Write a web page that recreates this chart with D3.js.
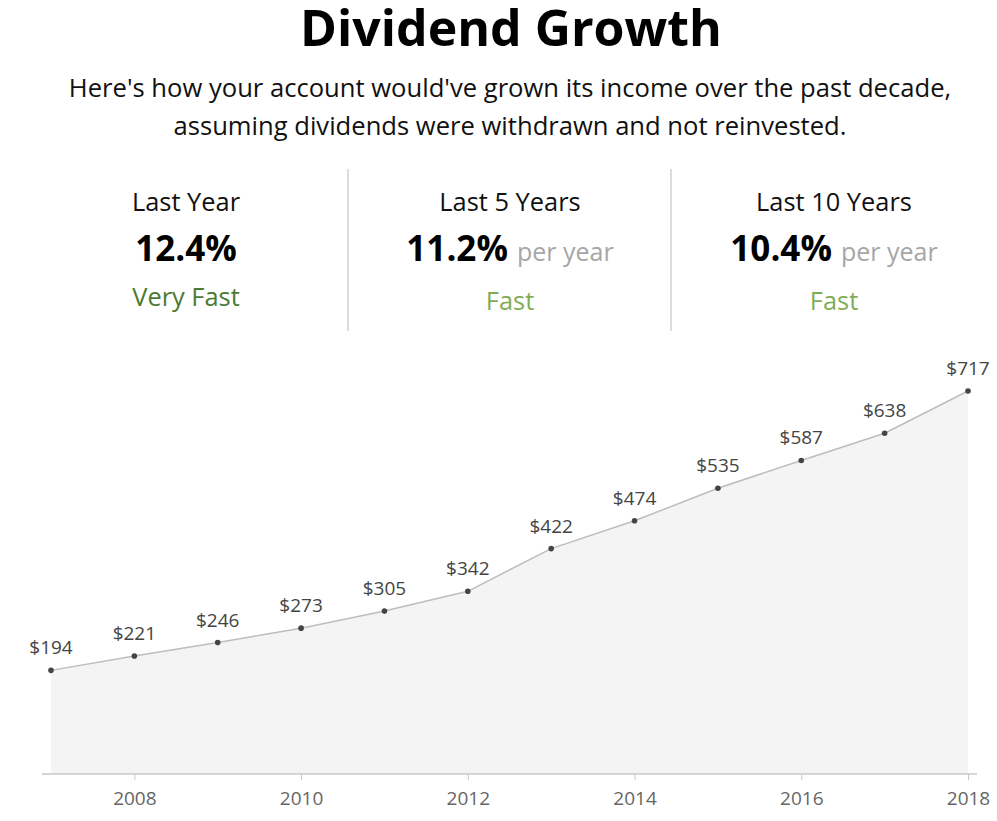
<!DOCTYPE html>
<html>
<head>
<meta charset="utf-8">
<script src="https://cdn.jsdelivr.net/npm/d3@7"></script>
<style>
  html, body { margin: 0; padding: 0; background: #fff; }
  svg { display: block; font-family: "Open Sans", sans-serif; }
</style>
</head>
<body>
<svg id="chart" width="997" height="821"></svg>
<script>
const years = [2007, 2008, 2009, 2010, 2011, 2012, 2013, 2014, 2015, 2016, 2017, 2018];
const income = [194, 221, 246, 273, 305, 342, 422, 474, 535, 587, 638, 717];
const tickYears = [2008, 2010, 2012, 2014, 2016, 2018];
const statLabels = ["Last Year", "Last 5 Years", "Last 10 Years"];
const statValues = ["12.4%", "11.2%", "10.4%"];
const statSuffix = ["", "per year", "per year"];
const statRatings = ["Very Fast", "Fast", "Fast"];
const ratingColors = ["#4b7a33", "#7fad57", "#7fad57"];

const svg = d3.select("#chart");

// Title & subtitle
svg.append("text").attr("x", 511).attr("y", 46).attr("text-anchor", "middle")
  .attr("font-size", 50).attr("font-weight", 700).attr("fill", "#000").text("Dividend Growth");
svg.append("text").attr("x", 510).attr("y", 97).attr("text-anchor", "middle")
  .attr("font-size", 25.6).attr("fill", "#111")
  .text("Here's how your account would've grown its income over the past decade,");
svg.append("text").attr("x", 510).attr("y", 135).attr("text-anchor", "middle")
  .attr("font-size", 25.6).attr("fill", "#111")
  .text("assuming dividends were withdrawn and not reinvested.");

// Stats
const colX = [186, 510, 834];
[348, 671].forEach(x => {
  svg.append("line").attr("x1", x).attr("x2", x).attr("y1", 169).attr("y2", 331)
    .attr("stroke", "#dcdcdc").attr("stroke-width", 2);
});
statLabels.forEach((lab, i) => {
  svg.append("text").attr("x", colX[i]).attr("y", 211).attr("text-anchor", "middle")
    .attr("font-size", 25.4).attr("fill", "#111").text(lab);
  const t = svg.append("text").attr("x", colX[i]).attr("y", 261).attr("text-anchor", "middle");
  t.append("tspan").attr("font-size", 35).attr("font-weight", 700).attr("fill", "#000").text(statValues[i]);
  if (statSuffix[i]) {
    t.append("tspan").attr("font-size", 25).attr("fill", "#a6a6a6").attr("dx", 9).text(statSuffix[i]);
  }
  svg.append("text").attr("x", colX[i]).attr("y", i === 0 ? 306 : 310).attr("text-anchor", "middle")
    .attr("font-size", 25.4).attr("fill", ratingColors[i]).text(statRatings[i]);
});

// Chart
const x = d3.scaleLinear().domain([2007, 2018]).range([51, 968]);
const y = d3.scaleLinear().domain([0, 717]).range([774, 391]);
const data = years.map((yr, i) => ({ yr, v: income[i] }));

svg.append("path").datum(data)
  .attr("fill", "#f4f4f4")
  .attr("d", d3.area().x(d => x(d.yr)).y0(y(0)).y1(d => y(d.v)));

svg.append("path").datum(data)
  .attr("fill", "none").attr("stroke", "#bdbdbd").attr("stroke-width", 1.5)
  .attr("d", d3.line().x(d => x(d.yr)).y(d => y(d.v)));

// Axis
const axis = svg.append("g").attr("transform", `translate(0,${y(0)})`)
  .call(d3.axisBottom(x).tickValues(tickYears).tickFormat(d3.format("d")).tickSize(6).tickSizeOuter(0).tickPadding(12));
axis.select(".domain").remove();
axis.selectAll(".tick line").attr("stroke", "#c8c8c8");
axis.selectAll(".tick text").attr("font-size", 19).attr("fill", "#666").attr("font-family", "Open Sans, sans-serif");
svg.append("line").attr("x1", 42).attr("x2", 977).attr("y1", y(0)).attr("y2", y(0))
  .attr("stroke", "#c8c8c8").attr("stroke-width", 1.5);

// Points and labels
svg.selectAll("circle.pt").data(data).enter().append("circle")
  .attr("class", "pt").attr("cx", d => x(d.yr)).attr("cy", d => y(d.v)).attr("r", 2.8).attr("fill", "#444");
svg.selectAll("text.lbl").data(data).enter().append("text")
  .attr("class", "lbl").attr("x", d => x(d.yr)).attr("y", d => y(d.v) - 16)
  .attr("text-anchor", "middle").attr("font-size", 19).attr("fill", "#444")
  .text(d => "$" + d.v);
</script>
</body>
</html>
